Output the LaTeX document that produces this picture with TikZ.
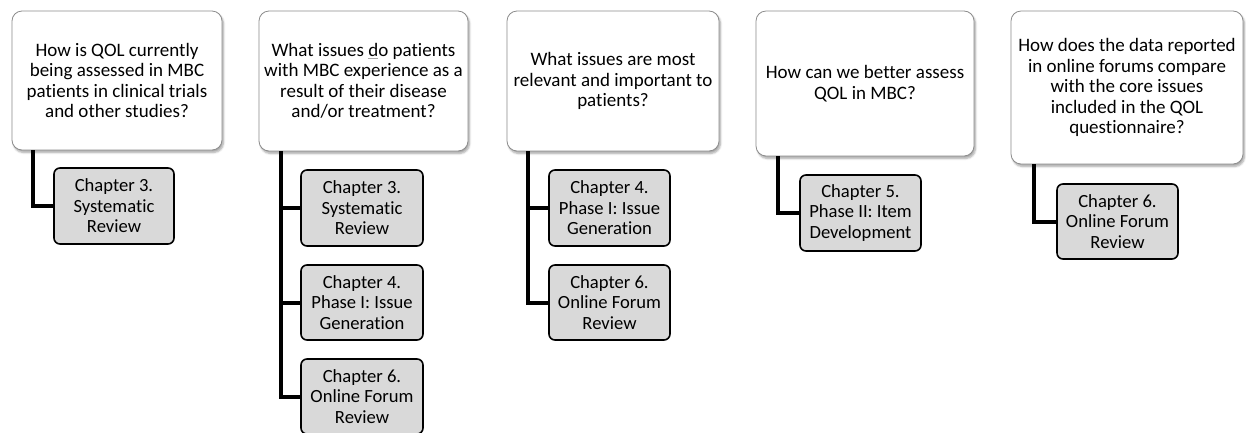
\documentclass[tikz,border=0pt]{standalone}
\usepackage{fontspec}
\setmainfont[Ligatures=NoCommon]{Carlito}
\usetikzlibrary{shadows.blur}
\usepackage{calc}
\definecolor{chapfill}{HTML}{D9D9D9}
\definecolor{qborder}{HTML}{8C8C8C}
\newcommand{\greyul}[1]{\rlap{\textcolor{gray!70}{\rule[-2.5pt]{\widthof{#1}}{0.9pt}}}#1}
\tikzset{
  question/.style={draw=qborder, line width=0.8pt, fill=white, rounded corners=10pt,
    align=center, inner sep=0pt, font=\fontsize{19}{20.5}\selectfont,
    blur shadow={shadow xshift=1.5pt, shadow yshift=-2.5pt, shadow opacity=35, shadow blur steps=6}},
  chapter/.style={draw=black, line width=1.6pt, fill=chapfill, rounded corners=6pt,
    align=center, inner sep=0pt, minimum width=120pt, minimum height=76pt,
    font=\fontsize{18.6}{20.5}\selectfont},
  link/.style={line width=4pt, black, line join=miter}
}
\begin{document}
\begin{tikzpicture}[x=1pt,y=-1pt]
\useasboundingbox (0,0) rectangle (1246,432);

% research questions
\node[question, minimum width=210pt, minimum height=139pt] (q1) at (117,80.5)
  {How is QOL currently\\being assessed in MBC\\patients in clinical trials\\and other studies?};
\node[question, minimum width=209pt, minimum height=140pt] (q2) at (363.5,81)
  {What issues \greyul{d}o patients\\with MBC experience as a\\result of their disease\\and/or treatment?};
\node[question, minimum width=212pt, minimum height=140pt] (q3) at (613,81)
  {What issues are most\\relevant and important to\\patients?};
\node[question, minimum width=218pt, minimum height=145pt] (q4) at (865,83.5)
  {How can we better assess\\QOL in MBC?};
\node[question, minimum width=232pt, minimum height=153pt] (q5) at (1127,87.5)
  {How does the data reported\\in online forums compare\\with the core issues\\included in the QOL\\questionnaire?};

% thesis chapters
\node[chapter] (c11) at (114,206) {Chapter 3.\\Systematic\\Review};

\node[chapter, minimum width=122pt] (c21) at (362,208) {Chapter 3.\\Systematic\\Review};
\node[chapter, minimum width=122pt, minimum height=75pt] (c22) at (362,302.5) {Chapter 4.\\Phase I: Issue\\Generation};
\node[chapter, minimum width=122pt, minimum height=75pt] (c23) at (362,396.5) {Chapter 6.\\Online Forum\\Review};

\node[chapter, minimum width=121pt] (c31) at (609.5,208) {Chapter 4.\\Phase I: Issue\\Generation};
\node[chapter, minimum width=121pt, minimum height=75pt] (c32) at (609.5,302.5) {Chapter 6.\\Online Forum\\Review};

\node[chapter, minimum width=121pt] (c41) at (860.5,213) {Chapter 5.\\Phase II: Item\\Development};

\node[chapter, minimum width=121pt, minimum height=75pt] (c51) at (1117.5,221.5) {Chapter 6.\\Online Forum\\Review};

% connectors from each question to its chapters
\coordinate (s1) at (33,150);
\coordinate (s2) at (281,151);
\coordinate (s3) at (528,151);
\coordinate (s4) at (778,156);
\coordinate (s5) at (1034,164);

\draw[link] (s1) |- (c11.west);
\draw[link] (s2) |- (c21.west);
\draw[link] (s2) |- (c22.west);
\draw[link] (s2) |- (c23.west);
\draw[link] (s3) |- (c31.west);
\draw[link] (s3) |- (c32.west);
\draw[link] (s4) |- (c41.west);
\draw[link] (s5) |- (c51.west);
\end{tikzpicture}
\end{document}
